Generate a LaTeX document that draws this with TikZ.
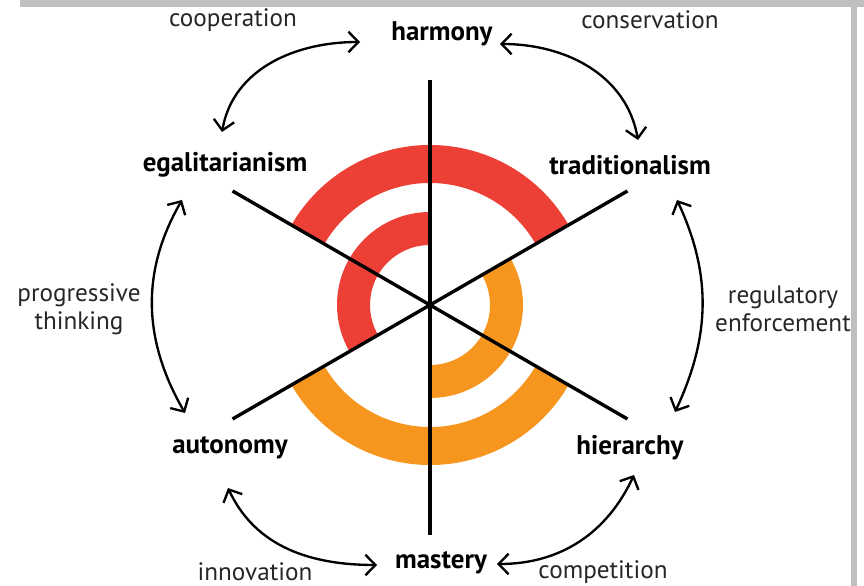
\documentclass[tikz,border=0pt]{standalone}
\usepackage{fontspec}
\setmainfont{PT Sans}
\usetikzlibrary{arrows.meta}
\definecolor{wheelred}{RGB}{236,64,54}
\definecolor{wheelorange}{RGB}{246,150,30}
\definecolor{edgegray}{RGB}{191,191,191}
\tikzset{
  value/.style={font=\fontsize{23}{26}\selectfont\bfseries},
  link/.style={font=\fontsize{21.5}{24}\selectfont, align=center, text=black!85},
  swap/.style={<->, line width=2pt, >={Straight Barb[length=3mm,width=6.2mm]}},
  axis/.style={line width=2.9pt},
}
\begin{document}
\begin{tikzpicture}[x=0.03cm, y=0.03cm]
\useasboundingbox (0,0) rectangle (864,586);
\fill[edgegray] (20,579) rectangle (864,586);
\fill[edgegray] (851,0) rectangle (857,579);
\coordinate (c) at (430,281);
\draw[wheelred, line width=1.14cm] ([shift={(30:141)}]c) arc[start angle=30, end angle=150, radius=141];
\draw[wheelorange, line width=1.14cm] ([shift={(210:141)}]c) arc[start angle=210, end angle=330, radius=141];
\draw[wheelred, line width=0.99cm] ([shift={(90:76.5)}]c) arc[start angle=90, end angle=210, radius=76.5];
\draw[wheelorange, line width=0.99cm] ([shift={(-90:76.5)}]c) arc[start angle=-90, end angle=30, radius=76.5];
\draw[axis] (430,51) -- (430,506);
\draw[axis] ([shift={(150:228)}]c) -- ([shift={(330:228)}]c);
\draw[axis] ([shift={(210:228)}]c) -- ([shift={(30:228)}]c);
\node[value] (harmony) at (442,552) {harmony};
\node[value] (egal) at (225,421) {egalitarianism};
\node[value] (trad) at (630,421) {traditionalism};
\node[value] (auton) at (230,138) {autonomy};
\node[value] (hier) at (630,138) {hierarchy};
\node[value] (mastery) at (441,23) {mastery};
\node[link] (coop) at (233,566) {cooperation};
\node[link] (cons) at (650,566) {conservation};
\node[link] (prog) at (79,277) {progressive\\thinking};
\node[link] (reg) at (783,277) {regulatory\\enforcement};
\node[link] (innov) at (255,14) {innovation};
\node[link] (comp) at (603,14) {competition};
\coordinate (harmonyL) at (360,544);
\coordinate (harmonyR) at (500,542);
\coordinate (egalT) at (222,454);
\coordinate (egalB) at (182,386);
\coordinate (tradT) at (638,446);
\coordinate (tradB) at (677,386);
\coordinate (autonT) at (185,173);
\coordinate (autonB) at (228,98);
\coordinate (hierT) at (675,174);
\coordinate (hierB) at (634,111);
\coordinate (masteryL) at (377,21);
\coordinate (masteryR) at (497,22);
\draw[swap] (harmonyL) to[out=180, in=80] (egalT);
\draw[swap] (harmonyR) to[out=0, in=100] (tradT);
\draw[swap] (egalB) to[out=240, in=120] (autonT);
\draw[swap] (tradB) to[out=-65, in=65] (hierT);
\draw[swap] (autonB) to[out=-65, in=180] (masteryL);
\draw[swap] (hierB) to[out=245, in=0] (masteryR);
\end{tikzpicture}
\end{document}
